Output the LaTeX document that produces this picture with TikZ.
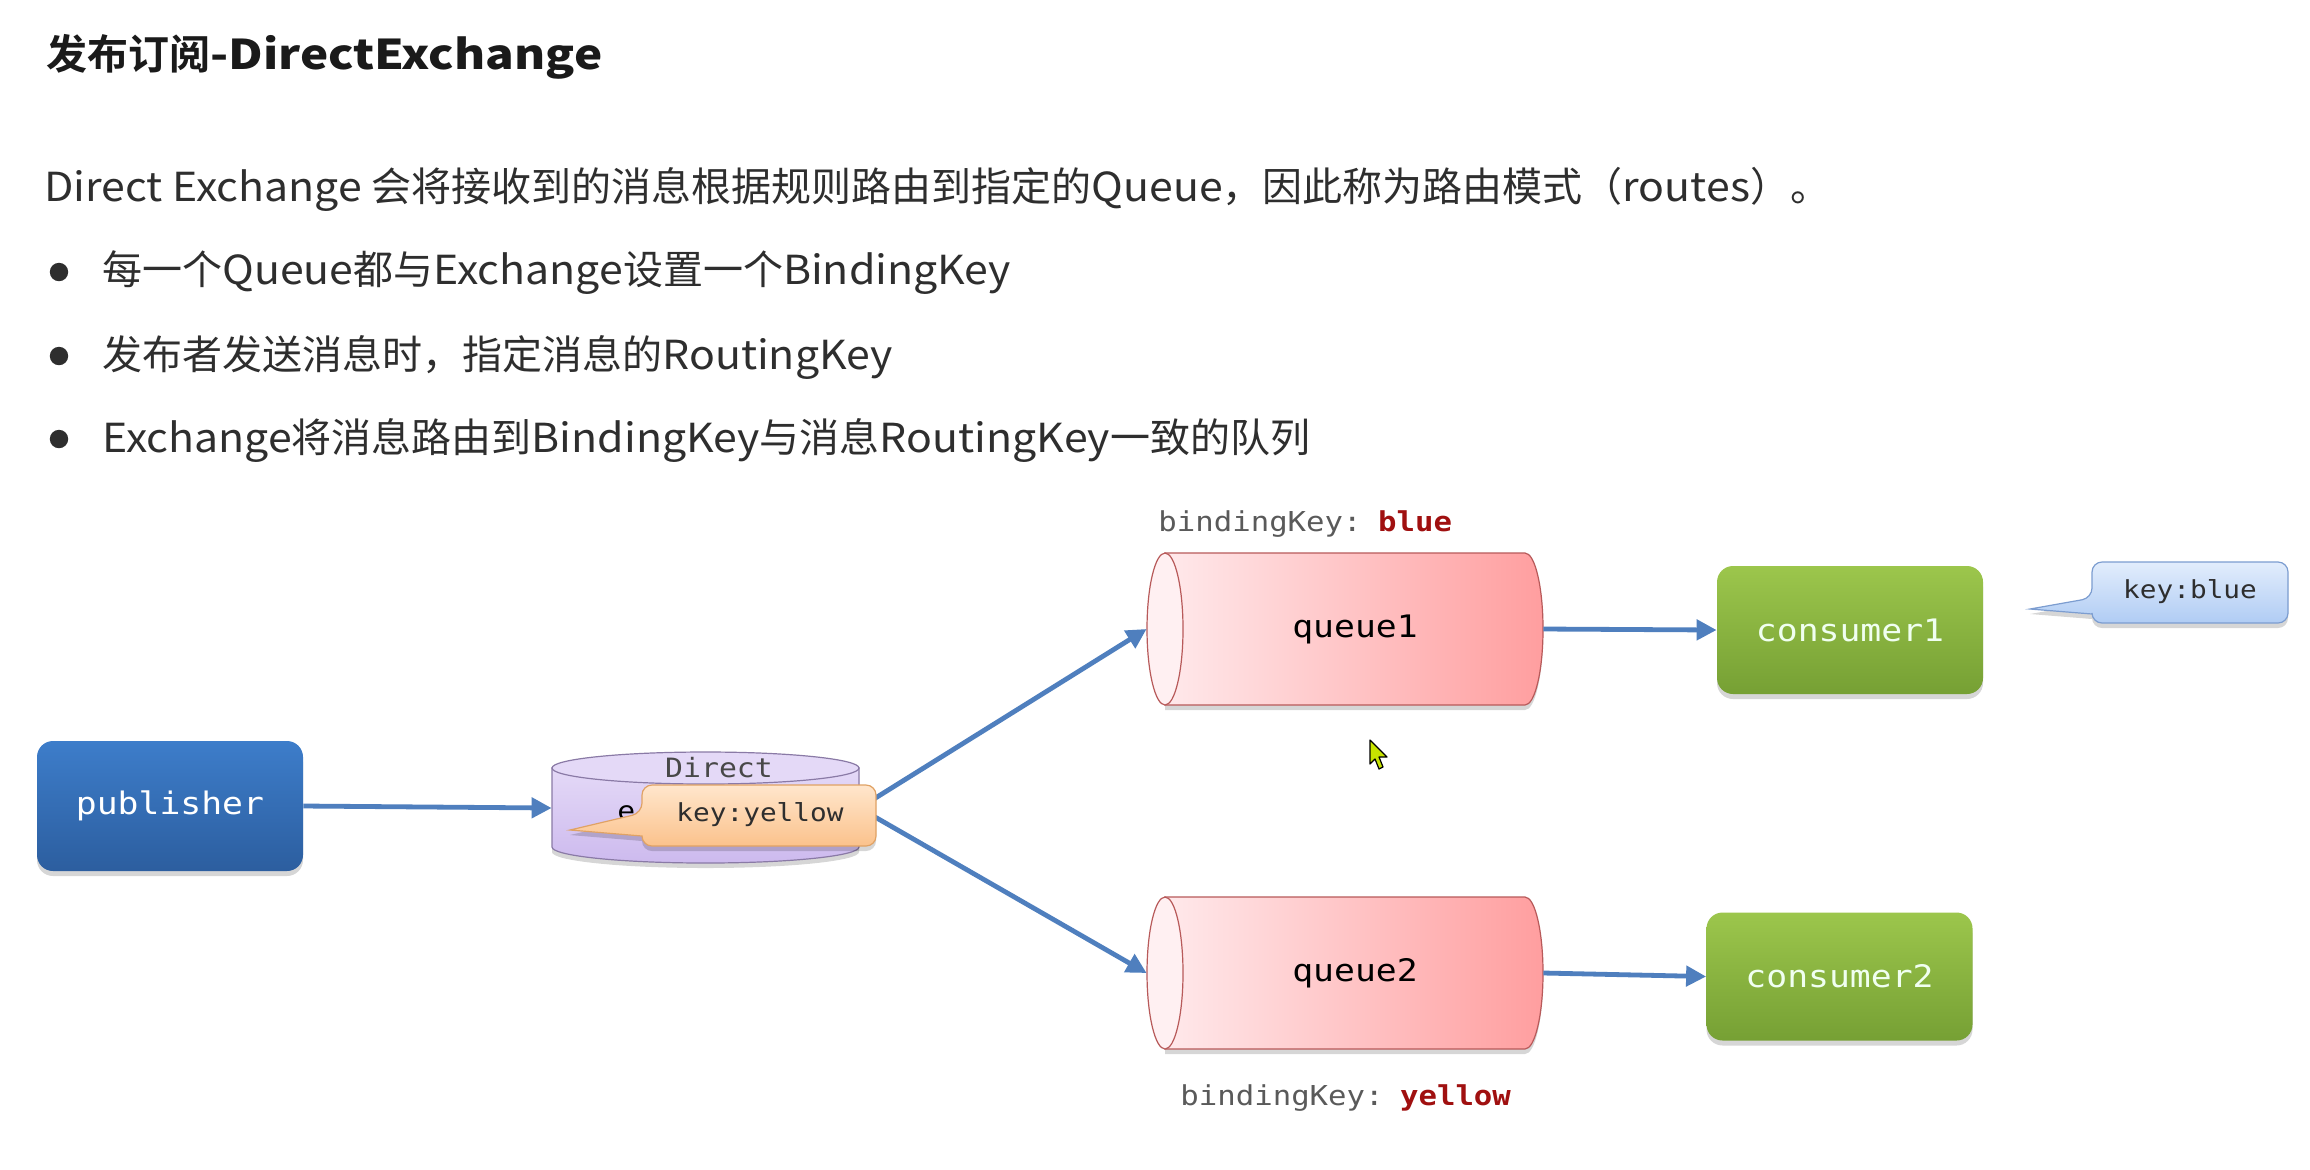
\documentclass[tikz,border=0pt]{standalone}
\usepackage{fontspec}
\setmainfont{Noto Sans CJK SC}[BoldFont={Noto Sans CJK SC Bold}]
\newfontfamily\lat[FakeStretch=1.07]{Noto Sans CJK SC}
\newfontfamily\latb[FakeStretch=1.16]{Noto Sans CJK SC Bold}
\newfontfamily\mono[FakeStretch=1.12]{DejaVu Sans Mono}
\usetikzlibrary{arrows.meta,shadows}
\definecolor{txt}{HTML}{2E2E2E}
\definecolor{ttl}{HTML}{1A1A1A}
\definecolor{arrowc}{HTML}{4F7FBE}
\definecolor{pubtop}{HTML}{3D7DCA}
\definecolor{pubbot}{HTML}{2C5E9F}
\definecolor{contop}{HTML}{9CC64C}
\definecolor{conbot}{HTML}{76A034}
\definecolor{qleft}{HTML}{FFE9EB}
\definecolor{qright}{HTML}{FF9E9F}
\definecolor{qface}{HTML}{FFF0F2}
\definecolor{qline}{HTML}{B85A5A}
\definecolor{extop}{HTML}{E4D9F7}
\definecolor{exbot}{HTML}{CDBAEE}
\definecolor{exline}{HTML}{8A7AA6}
\definecolor{ylwtop}{HTML}{FFE6CC}
\definecolor{ylwbot}{HTML}{FBC28C}
\definecolor{ylwline}{HTML}{E0A264}
\definecolor{blutop}{HTML}{E2EDFC}
\definecolor{blubot}{HTML}{B0CCF4}
\definecolor{bluline}{HTML}{7C9DD0}
\definecolor{bkgray}{HTML}{5A5A5A}
\definecolor{bkred}{HTML}{A01010}
\definecolor{curs}{HTML}{C8E400}
\tikzset{
  arr/.style={draw=arrowc, line width=2.4pt, -{Triangle[length=10pt,width=10pt]}},
  shad/.style={drop shadow={shadow xshift=0pt, shadow yshift=-2.5pt, opacity=0.16, fill=black}},
  pubbox/.style={shape=rectangle, rounded corners=8pt, minimum width=133pt, minimum height=65pt,
    top color=pubtop, bottom color=pubbot, draw=none, text=white, shad,
    font=\mono\fontsize{15.5pt}{18pt}\selectfont},
  conbox/.style={shape=rectangle, rounded corners=8pt, minimum width=133pt, minimum height=64pt,
    top color=contop, bottom color=conbot, draw=none, text=white!94!green, shad,
    font=\mono\fontsize{15.5pt}{18pt}\selectfont},
  qtext/.style={inner sep=0pt, minimum width=198pt, minimum height=76pt, text=black,
    font=\mono\fontsize{15.5pt}{18pt}\selectfont},
  qbody/.style={left color=qleft, right color=qright, draw=qline, line width=0.6pt, shad},
  qfacest/.style={fill=qface, draw=qline, line width=0.6pt},
  exbody/.style={top color=extop, bottom color=exbot, draw=exline, line width=0.6pt, shad},
  exface/.style={fill=extop, draw=exline, line width=0.6pt},
  bktext/.style={inner sep=0pt, anchor=west, text=bkgray, font=\mono\fontsize{13.7pt}{16pt}\selectfont},
  keytext/.style={inner sep=0pt, text=txt, font=\mono\fontsize{12.4pt}{15pt}\selectfont},
  ylwcall/.style={top color=ylwtop, bottom color=ylwbot, draw=ylwline, line width=0.6pt, shad},
  blucall/.style={top color=blutop, bottom color=blubot, draw=bluline, line width=0.6pt, shad},
  bodytext/.style={inner sep=0pt, anchor=west, text=txt, font=\fontsize{20pt}{24pt}\selectfont},
  titletext/.style={inner sep=0pt, anchor=west, text=ttl, font=\fontsize{20.5pt}{24pt}\selectfont\bfseries},
  bullet/.style={fill=txt}
}
\begin{document}
\begin{tikzpicture}[x=0.5pt, y=-0.5pt]
\path[use as bounding box, fill=white] (0,0) rectangle (2310,1169);

% ---------- texts ----------
\node[titletext] (title) at (46,57) {发布订阅{\latb -DirectExchange}};
\node[bodytext] (para) at (44,189) {{\lat Direct Exchange }会将接收到的消息根据规则路由到指定的{\lat Queue}，因此称为路由模式（{\lat routes}）。};
\fill[bullet] (59,272) circle[radius=4.6pt];
\fill[bullet] (59,356) circle[radius=4.6pt];
\fill[bullet] (59,439) circle[radius=4.6pt];
\node[bodytext] (b1) at (102,273) {每一个{\lat Queue}都与{\lat Exchange}设置一个{\lat BindingKey}};
\node[bodytext] (b2) at (102,357) {发布者发送消息时，指定消息的{\lat RoutingKey}};
\node[bodytext] (b3) at (102,440) {{\lat Exchange}将消息路由到{\lat BindingKey}与消息{\lat RoutingKey}一致的队列};

% ---------- publisher ----------
\node[pubbox] (pub) at (170,806) {publisher};

% ---------- exchange cylinder ----------
\path[exbody] (552,768) -- (552,847) arc[start angle=180, end angle=360, x radius=76.75pt, y radius=8pt] -- (859,768) -- cycle;
\path[exface] (705.5,768) ellipse[x radius=76.75pt, y radius=8pt];
\node[inner sep=0pt, minimum width=153.5pt, minimum height=56pt] (ex) at (705.5,808) {};
\node[inner sep=0pt, text=bkgray!80!black, font=\mono\fontsize{13.3pt}{16pt}\selectfont] (exl1) at (719,768) {Direct};
\node[inner sep=0pt, anchor=west, text=black, font=\mono\fontsize{13.3pt}{16pt}\selectfont] (exl2) at (617,813) {e};

% ---------- queues ----------
\path[qbody] (1165,553) -- (1525,553) arc[start angle=90, end angle=-90, x radius=9pt, y radius=38pt] -- (1165,705) -- cycle;
\path[qfacest] (1165,629) ellipse[x radius=9pt, y radius=38pt];
\node[qtext] (q1) at (1345,629) {\hspace*{10pt}queue1};

\path[qbody] (1165,897) -- (1525,897) arc[start angle=90, end angle=-90, x radius=9pt, y radius=38pt] -- (1165,1049) -- cycle;
\path[qfacest] (1165,973) ellipse[x radius=9pt, y radius=38pt];
\node[qtext] (q2) at (1345,973) {\hspace*{10pt}queue2};

\node[bktext] (bk1) at (1158,524) {bindingKey:\hspace{0.6em}\textcolor{bkred}{\bfseries blue}};
\node[bktext] (bk2) at (1180,1098) {bindingKey:\hspace{0.6em}\textcolor{bkred}{\bfseries yellow}};

% ---------- consumers ----------
\node[conbox] (c1) at (1850,630) {consumer1};
\node[conbox] (c2) at (1839.5,976.5) {consumer2};

% ---------- connectors ----------
\draw[arr] (pub.east) -- (ex.west);
\draw[arr] (ex.east) -- (q1.west);
\draw[arr] (ex.east) -- (q2.west);
\draw[arr] (q1.east) -- (c1.west);
\draw[arr] (q2.east) -- (c2.west);

% ---------- key:yellow callout ----------
\path[ylwcall] (760,785) [rounded corners=5pt] -- (642,785) -- (642,813) [sharp corners] -- (570,830) -- (642,836) [rounded corners=5pt] -- (642,846) -- (876,846) -- (876,785) -- cycle;
\node[keytext] (ky) at (760,815) {key:yellow};

% ---------- key:blue callout ----------
\path[blucall] (2190,562) [rounded corners=5pt] -- (2092,562) -- (2092,598) [sharp corners] -- (2030,609) -- (2092,614) [rounded corners=5pt] -- (2092,623) -- (2288,623) -- (2288,562) -- cycle;
\node[keytext] (kb) at (2190,592) {key:blue};

% ---------- mouse cursor ----------
\draw[fill=curs, line width=0.6pt, line join=round] (1370,740) -- (1370,764) -- (1375,759) -- (1379,769) -- (1383,767) -- (1379,757) -- (1387,757) -- cycle;
\end{tikzpicture}
\end{document}
